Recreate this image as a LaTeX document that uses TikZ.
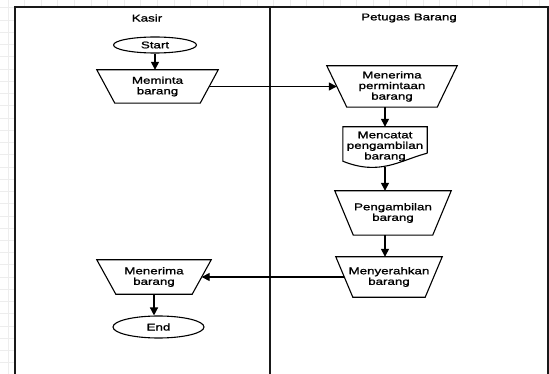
\documentclass[tikz,border=0pt]{standalone}
\usepackage{fontspec}
\setmainfont{Liberation Sans}[FakeStretch=1.36,
  BoldFont={Liberation Sans}, BoldFeatures={FakeStretch=1.36,FakeBold=1.2}]
\usetikzlibrary{shapes.geometric,arrows.meta,calc}

% trapezoid outline around a rectangular node: #1 node name, #2 inset of the lower side
\newcommand\drawtrap[2]{%
  \draw[shapeline] (#1.north west) -- (#1.north east)
    -- ([xshift=-#2]#1.south east) -- ([xshift=#2]#1.south west) -- cycle;}

\begin{document}
\begin{tikzpicture}[x=1pt,y=-1pt,
  font=\fontsize{9.8}{10.6}\selectfont\bfseries,
  gridline/.style={draw=black!7,line width=0.6pt},
  lane/.style={line width=2pt,draw=black!90},
  shapeline/.style={line width=1.1pt,draw=black},
  box/.style={rectangle,draw=none,align=center,inner sep=0pt},
  term/.style={ellipse,draw=black,line width=1.1pt,inner sep=0pt},
  flow/.style={line width=1.4pt,-{Triangle[length=8pt,width=8pt]}},
  label/.style={inner sep=0pt}
]
\useasboundingbox (0,0) rectangle (549,374);

% background grid
\foreach \i in {0,...,33} \draw[gridline] ({7.8+16.6*\i},0) -- ({7.8+16.6*\i},374);
\foreach \j in {0,...,30} \draw[gridline] (0,{7.76+12.24*\j}) -- (549,{7.76+12.24*\j});

% swimlanes
\fill[white] (14.5,7) rectangle (547.5,380);
\draw[lane] (14.5,380) -- (14.5,7) -- (547.5,7) -- (547.5,380);
\draw[lane] (270,7) -- (270,380);
\node[label] (kasir) at (147,18) {Kasir};
\node[label] (petugas) at (409,18) {Petugas Barang};

% Kasir lane
\node[term,minimum width=83pt,minimum height=16pt] (start) at (155,45) {Start};
\node[box,minimum width=121pt,minimum height=33pt] (meminta) at (157.5,86.5) {Meminta\\barang};
\drawtrap{meminta}{18pt}
\node[box,minimum width=114pt,minimum height=34pt] (terima) at (154,277) {Menerima\\barang};
\drawtrap{terima}{19pt}
\node[term,minimum width=91pt,minimum height=22pt] (stop) at (158.5,327) {End};

% Petugas Barang lane
\node[box,minimum width=130pt,minimum height=41pt] (permintaan) at (392,86.5) {Menerima\\permintaan\\barang};
\drawtrap{permintaan}{20pt}
\node[box,minimum width=84pt,minimum height=39pt] (doc) at (385,146.5) {Mencatat\\pengambilan\\barang};
\draw[shapeline] ($(doc.south east)+(0,-13)$) -- (doc.north east) -- (doc.north west)
  -- ($(doc.south west)+(0,-5)$)
  .. controls ($(doc.south)+(-5,10)$) and ($(doc.south east)+(-27,-6)$) .. ($(doc.south east)+(0,-13)$);
\node[box,minimum width=116pt,minimum height=44pt] (ambil) at (393,213) {Pengambilan\\barang};
\drawtrap{ambil}{18.5pt}
\node[box,minimum width=106pt,minimum height=40pt] (serah) at (389,277) {Menyerahkan\\barang};
\drawtrap{serah}{17pt}

% connectors
\draw[flow] (start.south) -- (start.south |- meminta.north);
\draw[flow] ($(meminta.east)+(-9,0)$) -- ($(permintaan.west)+(10,0)$);
\draw[flow] (permintaan.south -| doc.north) -- (doc.north);
\draw[flow] ($(doc.south)+(0,1)$) -- (doc.south |- ambil.north);
\draw[flow] (ambil.south -| doc.south) -- (doc.south |- serah.north);
\draw[flow] ($(serah.west)+(8.5,0)$) -- ($(terima.east)+(-9.5,0)$);
\draw[flow] (terima.south) -- (terima.south |- stop.north);
\end{tikzpicture}
\end{document}
